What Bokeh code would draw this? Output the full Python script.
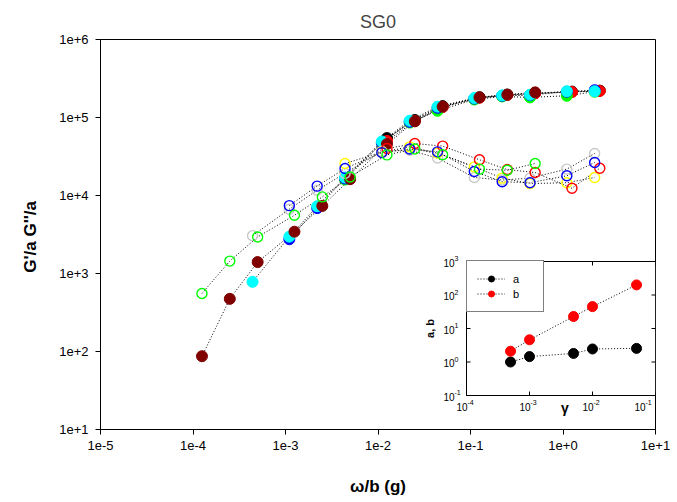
import math
from bokeh.plotting import figure
from bokeh.models import (FixedTicker, CustomJSTickFormatter, Range1d, LogScale,
                          Legend, LegendItem, LabelSet, ColumnDataSource)
from bokeh.core.properties import value
from bokeh.embed import file_html
from bokeh.resources import INLINE

FONT = "Liberation Sans"

# ---------------- main chart data (omega/b, G'/a and G''/a) ----------------
x_black = [1.25e-2, 2.5e-2, 5e-2, 0.125, 0.25, 0.5, 1.25, 2.5]
gp_black = [54500, 93000, 140000, 182000, 197000, 206000, 215000, 221000]
gp_red = [50000, 90000, 136000, 179000, 194000, 204000, 212000, 219000]
gpp_red = [40000, 46400, 43000, 28700, 21500, 19700, 12400, 22400]

x_green = [4.4e-3, 1.1e-2, 2.2e-2, 4.4e-2, 0.11, 0.22, 0.44, 1.1, 2.2]
gp_green = [16000, 47000, 86000, 122000, 170000, 186000, 181000, 190000, 214000]
gpp_yellow = [25700, 36000, 42000, 35000, 23300, 16700, 14200, 14600, 17000]

x_blue = [1.1e-3, 2.2e-3, 4.4e-3, 1.1e-2, 2.2e-2, 4.4e-2, 0.11, 0.22, 0.44, 1.1, 2.2]
gp_blue = [2750, 6900, 16500, 47500, 88000, 133000, 175000, 190000, 194000, 214000, 224000]
gpp_blue = [7420, 13200, 22200, 35500, 39400, 36300, 20300, 15000, 14600, 17900, 26500]

x_cyan = [4.4e-4, 1.1e-3, 2.2e-3, 4.4e-3, 1.1e-2, 2.2e-2, 4.4e-2, 0.11, 0.22, 0.44, 1.1, 2.2]
gp_cyan = [782, 2965, 7280, 17000, 49300, 91000, 137700, 177600, 192000, 196000, 217000, 217000]
gpp_gray = [3055, 6670, 11700, 19200, 37000, 38000, 30200, 17000, 15800, 16700, 21800, 34600]

x_maroon = [1.25e-4, 2.5e-4, 5e-4, 1.25e-3, 2.5e-3, 5e-3, 1.25e-2, 2.5e-2, 5e-2, 0.125, 0.25, 0.5]
gp_maroon = [87, 473, 1400, 3435, 7350, 16200, 45700, 89300, 137700, 181000, 196000, 210000]
gpp_green = [555, 1443, 2940, 5580, 9590, 17300, 33200, 39400, 33300, 21800, 21100, 25700]

x_ticks = [1e-5, 1e-4, 1e-3, 1e-2, 1e-1, 1e0, 1e1]
y_ticks = [1e1, 1e2, 1e3, 1e4, 1e5, 1e6]

# ---------------- inset data (shift factors vs strain) ----------------
gamma = [5e-4, 1e-3, 5e-3, 1e-2, 5e-2]
a_vals = [1.0, 1.45, 1.8, 2.45, 2.55]
b_vals = [2.1, 4.6, 22.8, 45, 200]
inset_x_ticks = [1e-4, 1e-3, 1e-2, 1e-1]
inset_y_ticks = [1e-1, 1e0, 1e1, 1e2, 1e3]
inset_x_lim = (1e-4, 1e-1)
inset_y_lim = (1e-1, 1e3)

filled = [
    (x_black, gp_black, "black"),
    (x_black, gp_red, "#ff0000"),
    (x_green, gp_green, "#00ff00"),
    (x_blue, gp_blue, "#0000ff"),
    (x_cyan, gp_cyan, "#00ffff"),
    (x_maroon, gp_maroon, "#800000"),
]
opened = [
    (x_cyan, gpp_gray, "#c8c8c8"),
    (x_green, gpp_yellow, "#ffff00"),
    (x_black, gpp_red, "#ff0000"),
    (x_blue, gpp_blue, "#0000ff"),
    (x_maroon, gpp_green, "#00ff00"),
]

p = figure(width=677, height=502, x_axis_type="log", y_axis_type="log",
           x_range=(1e-5, 1e1), y_range=(1e1, 1e6),
           output_backend="svg", toolbar_location=None,
           min_border_left=100, min_border_right=22,
           min_border_top=39, min_border_bottom=73)
p.grid.visible = False
p.outline_line_color = "black"
p.outline_line_width = 1
p.background_fill_color = "white"
p.border_fill_color = "white"

p.title.text = "SG0"
p.title.text_font = FONT
p.title.text_font_size = "18px"
p.title.text_font_style = "normal"
p.title.align = "center"
p.title.standoff = 15

fmt = CustomJSTickFormatter(code="return Number(tick).toExponential(0);")
for ax, ticks in ((p.xaxis[0], x_ticks), (p.yaxis[0], y_ticks)):
    ax.ticker = FixedTicker(ticks=ticks, minor_ticks=[])
    ax.formatter = fmt
    ax.major_tick_in = 0
    ax.major_tick_out = 5
    ax.minor_tick_in = 0
    ax.minor_tick_out = 0
    ax.axis_line_color = "black"
    ax.major_tick_line_color = "black"
    ax.major_label_text_font = FONT
    ax.major_label_text_font_size = "13px"
    ax.major_label_text_color = "black"
    ax.axis_label_text_font = FONT
    ax.axis_label_text_font_size = "17px"
    ax.axis_label_text_font_style = "bold"
    ax.axis_label_text_color = "black"

p.xaxis.axis_label = "\u03c9/b (g)"
p.xaxis.major_label_standoff = 6
p.xaxis.axis_label_standoff = 24
p.yaxis.axis_label = "G'/a  G''/a"
p.yaxis.major_label_standoff = 7
p.yaxis.axis_label_standoff = 16

for xs, ys, c in filled + opened:
    p.line(xs, ys, line_color="black", line_width=1, line_dash="1 2")
for xs, ys, c in filled:
    p.scatter(xs, ys, size=11, fill_color=c, line_color=c, line_width=1)
for xs, ys, c in opened:
    p.scatter(xs, ys, size=10, fill_color=None, line_color=c, line_width=1.4)

# ---------------- inset, drawn on its own log scales inside the frame ----------------
# inset frame occupies x 466..655 px and y 261..395 px of the 100..655 / 39..429 main frame
px_dec_x = 63.0
px_dec_y = 33.5
lx0 = math.log10(inset_x_lim[1]) - 555 / px_dec_x
ly_top = math.log10(inset_y_lim[1]) + (261 - 39) / px_dec_y
ly_bot = math.log10(inset_y_lim[0]) - (429 - 395) / px_dec_y
p.extra_x_ranges = {"ix": Range1d(10 ** lx0, inset_x_lim[1])}
p.extra_y_ranges = {"iy": Range1d(10 ** ly_bot, 10 ** ly_top)}
p.extra_x_scales = {"ix": LogScale()}
p.extra_y_scales = {"iy": LogScale()}
R = dict(x_range_name="ix", y_range_name="iy")

p.quad(left=[inset_x_lim[0]], right=[inset_x_lim[1]],
       bottom=[inset_y_lim[0]], top=[inset_y_lim[1]],
       fill_color="white", line_color="black", line_width=1, **R)

# inward ticks
n_x, n_y = len(inset_x_ticks), len(inset_y_ticks)
p.ray(x=inset_x_ticks, y=[inset_y_lim[0]] * n_x, length=4, length_units="screen",
      angle=math.pi / 2, line_color="black", line_width=1, **R)
p.ray(x=inset_x_ticks, y=[inset_y_lim[1]] * n_x, length=4, length_units="screen",
      angle=-math.pi / 2, line_color="black", line_width=1, **R)
p.ray(x=[inset_x_lim[0]] * n_y, y=inset_y_ticks, length=4, length_units="screen",
      angle=0, line_color="black", line_width=1, **R)
p.ray(x=[inset_x_lim[1]] * n_y, y=inset_y_ticks, length=4, length_units="screen",
      angle=math.pi, line_color="black", line_width=1, **R)

# tick labels 10^n ; the last x label is pulled in so it stays inside the frame
xexp = [str(round(math.log10(t))) for t in inset_x_ticks]
yexp = [str(round(math.log10(t))) for t in inset_y_ticks]
src_x = ColumnDataSource(dict(x=inset_x_ticks[:-1], y=[inset_y_lim[0]] * (n_x - 1),
                              base=["10"] * (n_x - 1), exp=xexp[:-1]))
src_xl = ColumnDataSource(dict(x=inset_x_ticks[-1:], y=[inset_y_lim[0]],
                               base=["10"], exp=xexp[-1:]))
src_y = ColumnDataSource(dict(x=[inset_x_lim[0]] * n_y, y=inset_y_ticks,
                              base=["10"] * n_y, exp=yexp))
common = dict(text_font=value(FONT), text_color="black", text_baseline="middle", **R)
for src, dx in ((src_x, 1), (src_xl, -10)):
    p.add_layout(LabelSet(x="x", y="y", text="base", source=src, x_offset=dx, y_offset=-11,
                          text_align="right", text_font_size="10px", **common))
    p.add_layout(LabelSet(x="x", y="y", text="exp", source=src, x_offset=dx, y_offset=-7,
                          text_align="left", text_font_size="7px", **common))
p.add_layout(LabelSet(x="x", y="y", text="base", source=src_y, x_offset=-12, y_offset=-1,
                      text_align="right", text_font_size="10px", **common))
p.add_layout(LabelSet(x="x", y="y", text="exp", source=src_y, x_offset=-12, y_offset=3,
                      text_align="left", text_font_size="7px", **common))

# axis titles of the inset
p.text(x=[inset_x_lim[0]], y=[10.0], text=["a, b"], angle=math.pi / 2,
       x_offset=-37, text_align="center", text_baseline="middle",
       text_font=value(FONT), text_font_size="11px", text_font_style="bold",
       text_color="black", **R)
p.text(x=[3.66e-3], y=[inset_y_lim[0]], text=["\u03b3"], y_offset=12,
       text_align="center", text_baseline="middle",
       text_font=value(FONT), text_font_size="14px", text_font_style="bold",
       text_color="black", **R)

la = p.line(gamma, a_vals, line_color="black", line_width=1, line_dash="1 2", **R)
lb = p.line(gamma, b_vals, line_color="black", line_width=1, line_dash="1 2", **R)
sa = p.scatter(gamma, a_vals, size=10, fill_color="black", line_color="black", **R)
sb = p.scatter(gamma, b_vals, size=10, fill_color="#ff0000", line_color="#ff0000", **R)

leg = Legend(items=[LegendItem(label="a", renderers=[la, sa]),
                    LegendItem(label="b", renderers=[lb, sb])],
             location=(366, 117), margin=0, padding=10, spacing=0,
             glyph_width=28, glyph_height=15, label_height=15,
             label_standoff=8, label_text_font=FONT, label_text_font_size="11px",
             label_text_color="black",
             border_line_color="black", border_line_width=1,
             background_fill_color="white", background_fill_alpha=1)
p.add_layout(leg, "center")

open("out.html", "w").write(file_html(p, INLINE))
